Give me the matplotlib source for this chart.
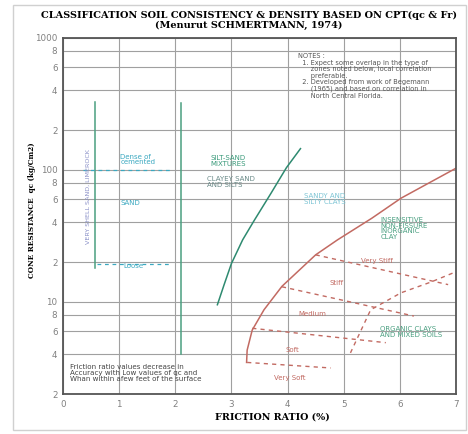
import matplotlib
matplotlib.use("Agg")
import matplotlib.pyplot as plt
from matplotlib.patches import Rectangle

# axis ticks
x_ticks = [0, 1, 2, 3, 4, 5, 6, 7]
y_ticks = [2, 4, 6, 8, 10, 20, 40, 60, 80, 100, 200, 400, 600, 800, 1000]
y_tick_labels = ['2', '4', '6', '8', '10', '2', '4', '6', '8', '100',
                 '2', '4', '6', '8', '1000']

# green vertical boundaries (friction ratio, qc bottom, qc top)
shell_x = [0.57, 0.57]
shell_qc = [18, 330]
sand_x = [2.1, 2.1]
sand_qc = [4, 320]

# sand density dashed lines
dense_x = [0.35, 1.9]
dense_qc = [100, 100]
loose_x = [0.6, 1.9]
loose_qc = [19.5, 19.5]

# silt-sand / sandy clay boundary
silt_x = [2.75, 2.87, 3.0, 3.2, 3.4, 3.7, 3.98, 4.23]
silt_qc = [9.5, 13.5, 19.5, 29.5, 41, 66, 104, 145]

# clay boundary (solid red)
clay_x = [3.27, 3.28, 3.37, 3.58, 3.90, 4.5, 4.89, 5.5, 6.02, 7.0]
clay_qc = [3.47, 4.3, 6.1, 8.7, 13.1, 22.7, 29.5, 43, 61, 103]

# consistency boundaries (dashed red)
vstiff_x = [4.5, 6.86]
vstiff_qc = [22.7, 13.5]
stiff_x = [3.9, 6.25]
stiff_qc = [13, 7.8]
medium_x = [3.37, 5.75]
medium_qc = [6.3, 4.9]
soft_x = [3.28, 4.77]
soft_qc = [3.47, 3.15]

# organic clays boundary
organic_x = [5.12, 5.48, 6.02, 6.55, 7.0]
organic_qc = [4.1, 8.7, 11.7, 14.1, 16.9]

green = '#4a9f80'
teal = '#3aa8c0'
red = '#c26a62'

fig = plt.figure(figsize=(4.68, 4.34), dpi=100)
fig.patches.append(Rectangle((13 / 468, 0.01), 453 / 468, 0.978, transform=fig.transFigure,
                             fill=False, edgecolor='#d0d0d0', lw=1.0))
ax = fig.add_axes([63 / 468, 1 - 394 / 434, 393 / 468, 356 / 434])
ax.set_yscale('log')
ax.set_xlim(0, 7)
ax.set_ylim(2, 1000)

ax.set_xticks(x_ticks)
ax.set_xticklabels([str(t) for t in x_ticks])
ax.set_yticks(y_ticks)
ax.set_yticklabels(y_tick_labels)
ax.minorticks_off()
ax.tick_params(length=0, labelsize=6.3, labelcolor='#808080', pad=4)
ax.grid(True, color='#a0a0a0', lw=0.8)
for s in ax.spines.values():
    s.set_color('#555555')
    s.set_linewidth(1.3)

ax.plot(shell_x, shell_qc, color=green, lw=1.1)
ax.plot(sand_x, sand_qc, color=green, lw=1.1)
ax.plot(dense_x, dense_qc, color=teal, lw=0.9, ls=(0, (3, 3)))
ax.plot(loose_x, loose_qc, color=teal, lw=0.9, ls=(0, (3, 3)))
ax.plot(silt_x, silt_qc, color='#2e8a70', lw=1.1)
ax.plot(clay_x, clay_qc, color=red, lw=1.1)
for xs, ys in [(vstiff_x, vstiff_qc), (stiff_x, stiff_qc), (medium_x, medium_qc),
               (soft_x, soft_qc), (organic_x, organic_qc)]:
    ax.plot(xs, ys, color=red, lw=1.0, ls=(0, (3, 3)))

fs = 5
ax.text(0.45, 63, 'VERY SHELL SAND, LIMEROCK', rotation=90, ha='center', va='center',
        fontsize=4.6, color='#8a90c8')
ax.text(1.02, 120, 'Dense of\ncemented', fontsize=fs, color=teal, va='center', linespacing=0.95)
ax.text(1.02, 56, 'SAND', fontsize=fs, color=teal, va='center')
ax.text(1.07, 18.6, 'Loose', fontsize=fs, color=teal, va='center')
ax.text(2.63, 117, 'SILT-SAND\nMIXTURES', fontsize=fs, color='#3a9a7a', va='center', linespacing=0.95)
ax.text(2.57, 81, 'CLAYEY SAND\nAND SILTS', fontsize=fs, color='#6a8a88', va='center', linespacing=0.95)
ax.text(4.29, 60, 'SANDY AND\nSILTY CLAYS', fontsize=fs, color='#7cc4d4', va='center', linespacing=0.95)
ax.text(5.66, 36, 'INSENSITIVE\nNON-FISSURE\nINORGANIC\nCLAY', fontsize=fs, color=green,
        va='center', linespacing=0.95)
ax.text(5.64, 5.9, 'ORGANIC CLAYS\nAND MIXED SOILS', fontsize=fs, color=green, va='center',
        linespacing=0.95)
ax.text(5.3, 20.4, 'Very Stiff', fontsize=fs, color=red, va='center')
ax.text(4.75, 13.9, 'Stiff', fontsize=fs, color=red, va='center')
ax.text(4.19, 8.1, 'Medium', fontsize=fs, color=red, va='center')
ax.text(3.96, 4.3, 'Soft', fontsize=fs, color=red, va='center')
ax.text(3.75, 2.65, 'Very Soft', fontsize=fs, color=red, va='center')
ax.text(4.18, 770, 'NOTES :\n'
        '  1. Expect some overlap in the type of\n'
        '      zones noted below, local correlation\n'
        '      preferable.\n'
        '  2. Developed from work of Begemann\n'
        '      (1965) and based on correlation in\n'
        '      North Central Florida.',
        fontsize=4.8, color='#555555', va='top', linespacing=1.12)
ax.text(0.12, 3.35, 'Friction ratio values decrease in\n'
        'Accuracy with Low values of qc and\n'
        'Whan within afew feet of the surface',
        fontsize=5.1, color='#444444', va='top', linespacing=1.0)

fig.text(0.532, 1 - 15 / 434, 'CLASSIFICATION SOIL CONSISTENCY & DENSITY BASED ON CPT(qc & Fr)',
         ha='center', va='center', fontsize=7.0, fontweight='bold', family='DejaVu Serif')
fig.text(0.532, 1 - 25 / 434, '(Menurut SCHMERTMANN, 1974)',
         ha='center', va='center', fontsize=7.0, fontweight='bold', family='DejaVu Serif')
fig.text(32 / 468, 1 - 210 / 434, 'CONE RESISTANCE  qc (kg/Cm2)', rotation=90,
         ha='center', va='center', fontsize=5.2, fontweight='bold', family='DejaVu Serif')
fig.text(272 / 468, 1 - 417 / 434, 'FRICTION RATIO (%)', ha='center', va='center',
         fontsize=6.8, fontweight='bold', family='DejaVu Serif')

fig.savefig('out.png', dpi=100)
